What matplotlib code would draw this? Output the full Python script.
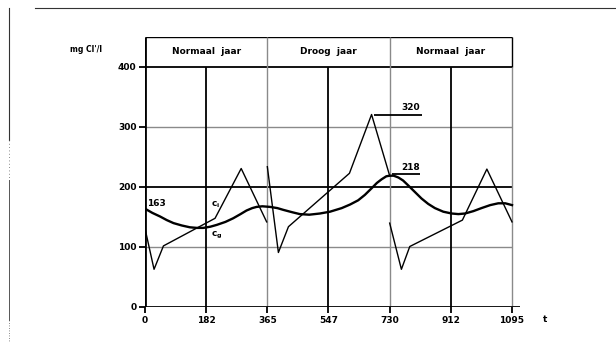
import matplotlib
matplotlib.use("Agg")
import matplotlib.pyplot as plt
from matplotlib.lines import Line2D

# ---- data ----
year_labels = ["Normaal  jaar", "Droog  jaar", "Normaal  jaar"]
year_bounds = [0, 365, 730, 1095]
x_ticks = [0, 182, 365, 547, 730, 912, 1095]
x_tick_labels = ["0", "182", "365", "547", "730", "912", "1095"]
y_ticks = [0, 100, 200, 300, 400]

# c_i : thin sawtooth line, one piece per year
ci_y1_t = [0, 27, 55, 209, 287, 363]
ci_y1_v = [130, 62, 101, 147, 230, 141]
ci_y2_t = [365, 398, 428, 610, 676, 730]
ci_y2_v = [233, 90, 133, 222, 320, 218]
ci_y3_t = [730, 765, 790, 947, 1020, 1095]
ci_y3_v = [139, 62, 100, 144, 229, 141]

# c_g : thick smooth line
cg_t = [0, 22, 45, 65, 85, 110, 134, 155, 174, 195, 214, 240, 263, 285, 303, 320,
        333, 350, 373, 395, 413, 440, 462, 490, 522, 552, 587, 612, 636, 656, 676,
        692, 706, 720, 730, 742, 756, 770, 785, 805, 825, 845, 865, 890, 915, 935,
        955, 980, 1004, 1030, 1054, 1075, 1095]
cg_v = [163, 156, 150, 144, 139, 135, 132, 131, 131, 133, 136, 141, 147, 154, 160, 164,
        166, 167, 166, 164, 161, 157, 154, 153, 155, 158, 164, 170, 177, 186, 197,
        206, 212, 217, 218, 218, 215, 210, 202, 191, 180, 171, 164, 158, 155, 154,
        155, 159, 164, 169, 172, 172, 169]

peak_ci = 320
peak_cg = 218
start_cg = 163

# ---- figure ----
W, H = 616, 342
fig = plt.figure(figsize=(W / 100, H / 100), dpi=100)
fig.patch.set_facecolor("white")

px_per_day = (512 - 145) / 1095.0
xmax = 1120
x0_px, y0_px = 145, 306.5
ymax = 450
ax = fig.add_axes([x0_px / W, 1 - y0_px / H, xmax * px_per_day / W, (306.5 - 36.5) / H])
ax.set_xlim(0, xmax)
ax.set_ylim(0, ymax)
for s in ax.spines.values():
    s.set_visible(False)
ax.set_facecolor("none")

FS = 6.5
font = dict(fontsize=FS, fontweight="bold", color="black", family="DejaVu Sans")

# grid lines
black_w = 1.3
grey_c = "#8a8a8a"
for y in [400, 200]:
    ax.plot([0, 1095], [y, y], color="black", lw=black_w, solid_capstyle="butt")
for y in [300, 100]:
    ax.plot([0, 1095], [y, y], color=grey_c, lw=1.0, solid_capstyle="butt")
ax.plot([0, 1095], [450, 450], color="black", lw=1.0, solid_capstyle="butt")
for x in [182, 547, 912]:
    ax.plot([x, x], [0, 400], color="black", lw=black_w, solid_capstyle="butt")
for x in [365, 730]:
    ax.plot([x, x], [0, 450], color=grey_c, lw=1.0, solid_capstyle="butt")
ax.plot([1095, 1095], [0, 400], color=grey_c, lw=1.0, solid_capstyle="butt")
ax.plot([1095, 1095], [400, 450], color="black", lw=1.0, solid_capstyle="butt")

# axes
ax.plot([0, 0], [0, 450], color="black", lw=2.0, solid_capstyle="butt")
ax.plot([0, xmax], [0, 0], color="black", lw=2.0, solid_capstyle="butt")

# ticks
ax.set_xticks(x_ticks)
ax.set_xticklabels(x_tick_labels, **font)
ax.set_yticks(y_ticks)
ax.set_yticklabels([str(v) for v in y_ticks], **font)
ax.tick_params(axis="x", length=4, width=1.3, direction="out", pad=3)
ax.tick_params(axis="y", length=4, width=1.3, direction="out", pad=2)

# year headers
for i, lab in enumerate(year_labels):
    xc = (year_bounds[i] + year_bounds[i + 1]) / 2
    ax.text(xc, 425, lab, ha="center", va="center", **font)

# curves
ax.plot(cg_t, cg_v, color="black", lw=1.7, solid_joinstyle="round")
for tt, vv in [(ci_y1_t, ci_y1_v), (ci_y2_t, ci_y2_v), (ci_y3_t, ci_y3_v)]:
    ax.plot(tt, vv, color="black", lw=1.0)

# annotations
ax.plot([682, 825], [peak_ci, peak_ci], color="black", lw=1.3, solid_capstyle="butt")
ax.text(792, peak_ci + 4, str(peak_ci), ha="center", va="bottom", **font)
ax.plot([738, 820], [peak_cg + 3, peak_cg + 3], color="black", lw=1.3, solid_capstyle="butt")
ax.text(792, peak_cg + 7, str(peak_cg), ha="center", va="bottom", **font)
ax.text(6, 172, str(start_cg), ha="left", va="center", **font)
ax.text(198, 170, "c$_\\mathregular{i}$", ha="left", va="center", **font)
ax.text(198, 118, "c$_\\mathregular{g}$", ha="left", va="center", **font)
ax.text(1193, -21, "t", ha="center", va="center", clip_on=False, **font)

# y unit label
fig.text(70 / W, 1 - 49 / H, "mg Cl'/l", ha="left", va="center",
         fontsize=5.5, fontweight="bold", family="DejaVu Sans")

# page frame remnants (scan border)
fig.add_artist(Line2D([35 / W, 1.0], [1 - 7.5 / H, 1 - 7.5 / H], color="#333333", lw=0.8))
fig.add_artist(Line2D([8.5 / W, 8.5 / W], [1 - 7.5 / H, 1 - 140 / H], color="#333333", lw=0.8))
fig.add_artist(Line2D([8.5 / W, 8.5 / W], [1 - 140 / H, 1 - 180 / H], color="#666666", lw=0.6,
                      linestyle=(0, (1, 3))))
fig.add_artist(Line2D([8.5 / W, 8.5 / W], [1 - 180 / H, 1 - 320 / H], color="#555555", lw=0.7))
fig.add_artist(Line2D([8.5 / W, 8.5 / W], [1 - 320 / H, 0], color="#666666", lw=0.6,
                      linestyle=(0, (1, 2))))

fig.savefig("out.png", dpi=100, facecolor="white")
